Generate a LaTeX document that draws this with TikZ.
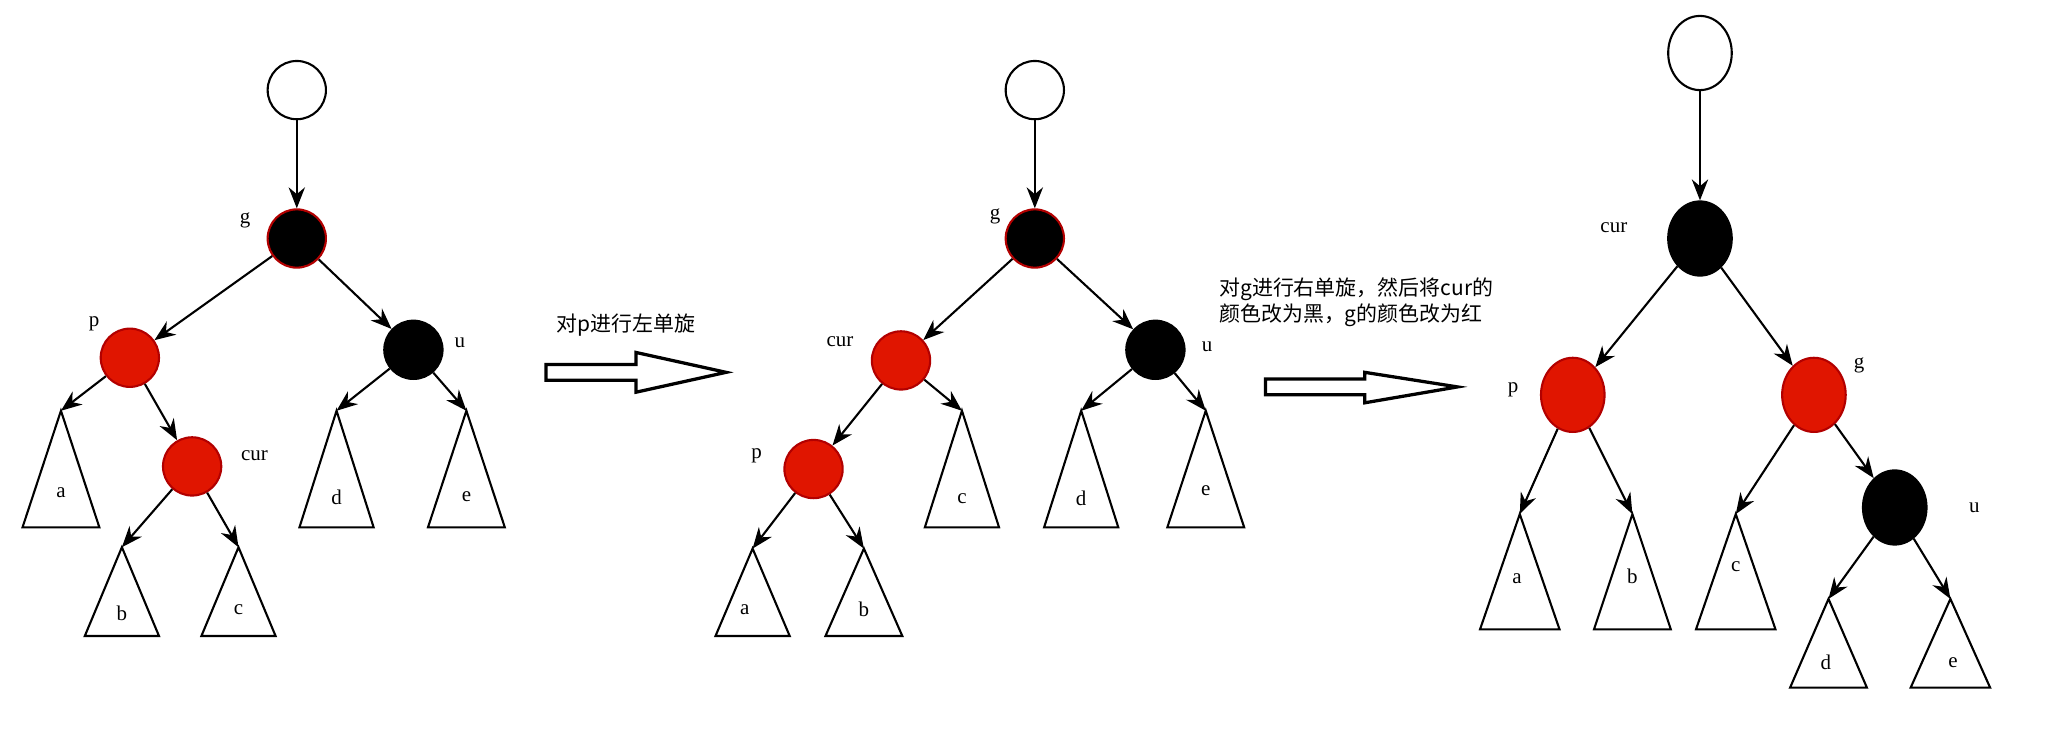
\documentclass[tikz,border=0pt]{standalone}
\usepackage{fontspec}
\setmainfont{Liberation Serif}
\newfontfamily\cjk{Noto Sans CJK SC}
\usetikzlibrary{arrows.meta}
\definecolor{rbred}{HTML}{E01500}
\definecolor{rbedge}{HTML}{B20000}
\tikzset{
  nd/.style={circle,draw,line width=0.9pt,minimum size=0.88cm,inner sep=0pt},
  el/.style={ellipse,draw,line width=0.9pt,minimum width=0.96cm,minimum height=1.12cm,inner sep=0pt},
  rednd/.style={fill=rbred,draw=rbedge},
  blknd/.style={fill=black,draw=black},
  blkr/.style={fill=black,draw=rbedge},
  lbl/.style={font=\fontsize{9}{11}\selectfont},
  edge/.style={line width=0.9pt,-{Stealth[length=9pt,width=7pt]}},
  tri/.style={draw,line width=0.9pt},
  hollow/.style={draw,line width=1.4pt,fill=white},
}
\usetikzlibrary{shapes.geometric}
\newcommand{\subtree}[5]{% name apexx apexy halfwidth basey, label
  \coordinate (#1) at (#2,#3);
  \draw[tri] (#2,#3) -- (#2-#4,#5) -- (#2+#4,#5) -- cycle;
}
\begin{document}
\begin{tikzpicture}[x=0.02cm,y=-0.02cm]
\useasboundingbox (0,0) rectangle (1560,551.7);
% ---------- left tree ----------
\node[nd] (Lr) at (224,68) {};
\node[nd,blkr] (Lg) at (224,180) {};
\node[nd,rednd] (Lp) at (98,270) {};
\node[nd,blknd] (Lu) at (312,264) {};
\node[nd,rednd] (Lc) at (145,352) {};
\subtree{La}{46}{310}{29}{398}\node[lbl] (Lta) at (46,372) {a};
\subtree{Lb}{92}{413}{28}{480}\node[lbl] (Ltb) at (92,463) {b};
\subtree{Lcc}{180}{413}{28}{480}\node[lbl] (Ltc) at (180,460) {c};
\subtree{Ld}{254}{310}{28}{398}\node[lbl] (Ltd) at (254,375) {d};
\subtree{Le}{352}{310}{29}{398}\node[lbl] (Lte) at (352,375) {e};
\node[lbl] (Llg) at (185,166) {g};
\node[lbl] (Llp) at (71,244) {p};
\node[lbl] (Llu) at (347,259) {u};
\node[lbl] (Llc) at (192,344) {cur};
\draw[edge] (Lr) -- (Lg);
\draw[edge] (Lg) -- (Lp);
\draw[edge] (Lg) -- (Lu);
\draw[edge] (Lp) -- (La);
\draw[edge] (Lp) -- (Lc);
\draw[edge] (Lc) -- (Lb);
\draw[edge] (Lc) -- (Lcc);
\draw[edge] (Lu) -- (Ld);
\draw[edge] (Lu) -- (Le);
% arrow 1
\node[lbl,anchor=west] (T1) at (414,245) {\cjk 对p进行左单旋};
\draw[hollow] (412,275) -- (480,275) -- (480,266) -- (548,281) -- (480,296) -- (480,287) -- (412,287) -- cycle;
% ---------- middle tree ----------
\node[nd] (Mr) at (781,68) {};
\node[nd,blkr] (Mg) at (781,180) {};
\node[nd,rednd] (Mc) at (680,272) {};
\node[nd,blknd] (Mu) at (872,264) {};
\node[nd,rednd] (Mp) at (614,354) {};
\subtree{Ma}{568}{414}{28}{480}\node[lbl] (Mta) at (562,460) {a};
\subtree{Mb}{652}{414}{29}{480}\node[lbl] (Mtb) at (652,460) {b};
\subtree{Mcc}{726}{310}{28}{398}\node[lbl] (Mtc) at (726,376) {c};
\subtree{Md}{816}{310}{28}{398}\node[lbl] (Mtd) at (816,376) {d};
\subtree{Me}{910}{310}{29}{398}\node[lbl] (Mte) at (910,370) {e};
\node[lbl] (Mlg) at (751,163) {g};
\node[lbl] (Mlc) at (634,258) {cur};
\node[lbl] (Mlu) at (911,262) {u};
\node[lbl] (Mlp) at (571,344) {p};
\draw[edge] (Mr) -- (Mg);
\draw[edge] (Mg) -- (Mc);
\draw[edge] (Mg) -- (Mu);
\draw[edge] (Mc) -- (Mp);
\draw[edge] (Mc) -- (Mcc);
\draw[edge] (Mu) -- (Md);
\draw[edge] (Mu) -- (Me);
\draw[edge] (Mp) -- (Ma);
\draw[edge] (Mp) -- (Mb);
% arrow 2
\node[lbl,anchor=west,align=left] (T2) at (914,228) {\cjk 对g进行右单旋，然后将cur的\\\cjk 颜色改为黑，g的颜色改为红};
\draw[hollow] (955,286) -- (1030,286) -- (1030,281) -- (1100,292) -- (1030,304) -- (1030,298) -- (955,298) -- cycle;
% ---------- right tree ----------
\node[el] (Rr) at (1283,40) {};
\node[el,blknd] (Rc) at (1283,180) {};
\node[el,rednd] (Rp) at (1187,298) {};
\node[el,rednd] (Rg) at (1369,298) {};
\node[el,blknd] (Ru) at (1430,383) {};
\subtree{Ra}{1147}{388}{30}{475}\node[lbl] (Rta) at (1145,437) {a};
\subtree{Rb}{1232}{388}{29}{475}\node[lbl] (Rtb) at (1232,435) {b};
\subtree{Rcc}{1310}{388}{30}{475}\node[lbl] (Rtc) at (1310,428) {c};
\subtree{Rd}{1380}{452}{29}{519}\node[lbl] (Rtd) at (1378,500) {d};
\subtree{Re}{1472}{452}{30}{519}\node[lbl] (Rte) at (1474,500) {e};
\node[lbl] (Rlc) at (1218,172) {cur};
\node[lbl] (Rlp) at (1142,294) {p};
\node[lbl] (Rlg) at (1403,276) {g};
\node[lbl] (Rlu) at (1490,383) {u};
\draw[edge] (Rr) -- (Rc);
\draw[edge] (Rc) -- (Rp);
\draw[edge] (Rc) -- (Rg);
\draw[edge] (Rp) -- (Ra);
\draw[edge] (Rp) -- (Rb);
\draw[edge] (Rg) -- (Rcc);
\draw[edge] (Rg) -- (Ru);
\draw[edge] (Ru) -- (Rd);
\draw[edge] (Ru) -- (Re);
\end{tikzpicture}
\end{document}
